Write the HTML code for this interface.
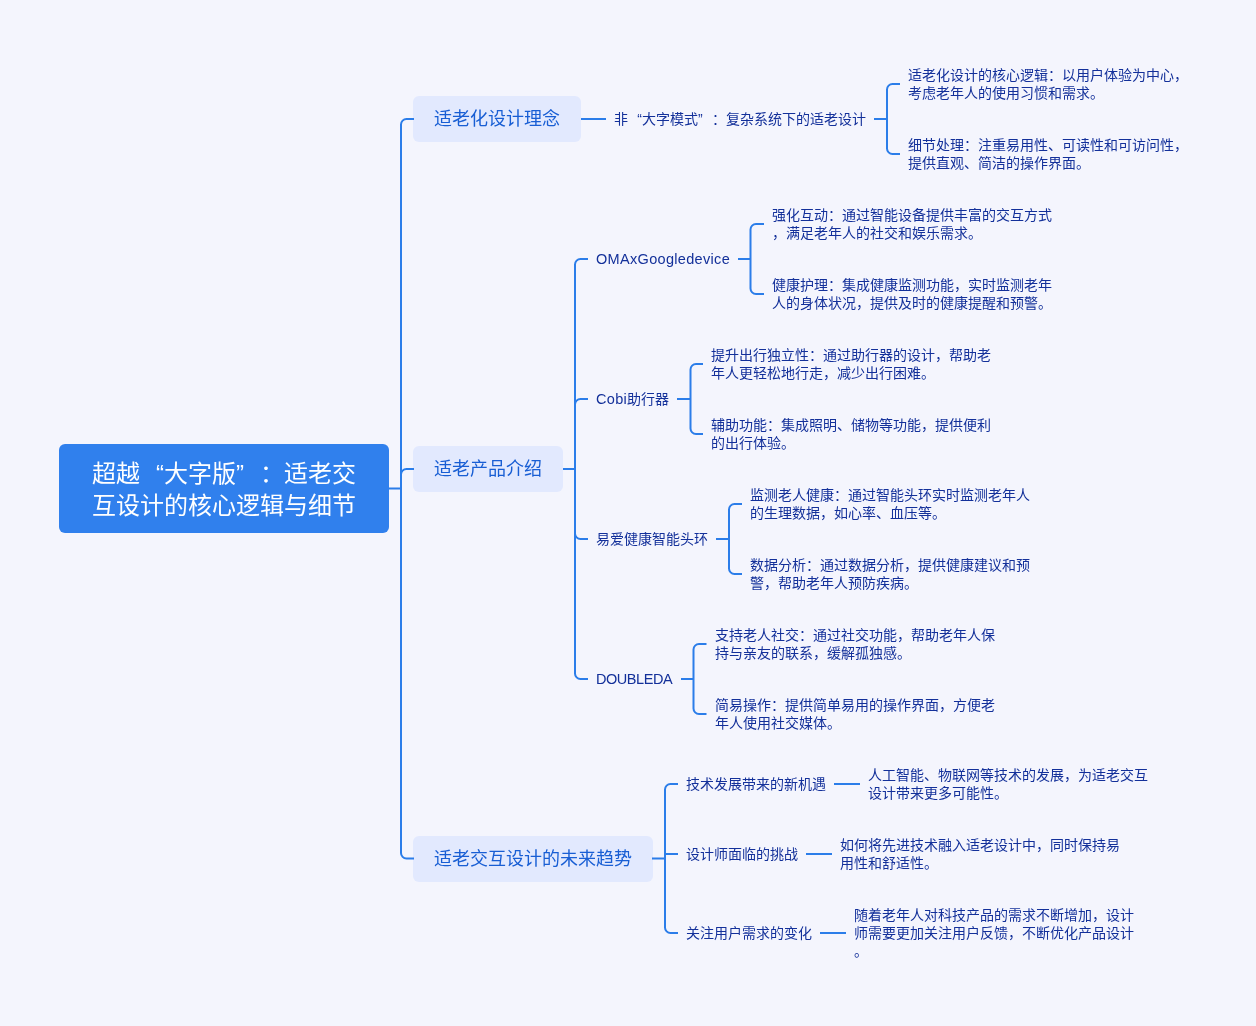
<!DOCTYPE html>
<html lang="zh-CN">
<head>
<meta charset="utf-8">
<title>超越“大字版”：适老交互设计的核心逻辑与细节</title>
<style>
html,body{margin:0;padding:0}
body{width:1256px;height:1026px;overflow:hidden;background:#f4f5fd;font-family:"Liberation Sans",sans-serif;position:relative}
svg{position:absolute;left:0;top:0;z-index:2}
.layer{position:absolute;left:0;top:0;width:1256px;height:1026px;will-change:transform}
.root{position:absolute;left:59px;top:444px;width:330px;height:89px;border-radius:6px;background:#3080ed;color:#fff;font-size:24px;line-height:31.5px;text-align:center;box-sizing:border-box;padding-top:14px;white-space:nowrap}
.l2{position:absolute;left:413px;height:46px;border-radius:6px;background:#e2e9fe;color:#185ed4;font-size:18px;line-height:46px;text-align:center;white-space:nowrap}
.t{position:absolute;color:#13309a;font-size:14px;line-height:18px;white-space:nowrap}
.ql,.qr{display:inline-block;width:1em}
.ql{text-align:right}
.qr{text-align:left}
.en{font-size:14.5px}
</style>
</head>
<body>
<svg width="1256" height="1026" viewBox="0 0 1256 1026" fill="none" stroke="#2b7de9" stroke-width="2">
<path d="M389,488.5H401M401,488.5V124.5A5.5,5.5 0 0 1 406.5,119H414M401,488.5V474.5A5.5,5.5 0 0 1 406.5,469H414M401,488.5V853.0A5.5,5.5 0 0 0 406.5,858.5H414"/>
<path d="M581,119H606"/>
<path d="M874,119H887M887,119V89.5A5.5,5.5 0 0 1 892.5,84H900M887,119V148.5A5.5,5.5 0 0 0 892.5,154H900"/>
<path d="M563,469H575M575,469V264.5A5.5,5.5 0 0 1 580.5,259H588M575,469V404.5A5.5,5.5 0 0 1 580.5,399H588M575,469V533.5A5.5,5.5 0 0 0 580.5,539H588M575,469V673.5A5.5,5.5 0 0 0 580.5,679H588"/>
<path d="M738,259H750.5M750.5,259V229.5A5.5,5.5 0 0 1 756.0,224H764M750.5,259V288.5A5.5,5.5 0 0 0 756.0,294H764"/>
<path d="M677,399H690.5M690.5,399V369.5A5.5,5.5 0 0 1 696.0,364H703M690.5,399V428.5A5.5,5.5 0 0 0 696.0,434H703"/>
<path d="M716,539H729M729,539V509.5A5.5,5.5 0 0 1 734.5,504H742M729,539V568.5A5.5,5.5 0 0 0 734.5,574H742"/>
<path d="M681,679H693.5M693.5,679V649.5A5.5,5.5 0 0 1 699.0,644H706.5M693.5,679V708.5A5.5,5.5 0 0 0 699.0,714H706.5"/>
<path d="M652,858.5H665M665,858.5V789.5A5.5,5.5 0 0 1 670.5,784H678M665,858.5V854H678M665,858.5V927.5A5.5,5.5 0 0 0 670.5,933H678"/>
<path d="M834,784H860"/>
<path d="M806,854H832"/>
<path d="M820,933H846"/>
</svg>
<div class="layer">
<div class="root"><div>超越<span class="ql">“</span>大字版<span class="qr">”</span>：适老交</div><div>互设计的核心逻辑与细节</div></div>
<div class="l2" style="top:96px;width:168px">适老化设计理念</div>
<div class="l2" style="top:446px;width:150px">适老产品介绍</div>
<div class="l2" style="top:835.5px;width:240px">适老交互设计的未来趋势</div>
<div class="t" style="left:614px;top:110px">非<span class="ql">“</span>大字模式<span class="qr">”</span>：复杂系统下的适老设计</div>
<div class="t" style="left:908px;top:66px">适老化设计的核心逻辑：以用户体验为中心，<br>考虑老年人的使用习惯和需求。</div>
<div class="t" style="left:908px;top:136px">细节处理：注重易用性、可读性和可访问性，<br>提供直观、简洁的操作界面。</div>
<div class="t" style="left:596px;top:250px"><span class="en" style="letter-spacing:0.32px">OMAxGoogledevice</span></div>
<div class="t" style="left:772px;top:206px">强化互动：通过智能设备提供丰富的交互方式<br>，满足老年人的社交和娱乐需求。</div>
<div class="t" style="left:772px;top:276px">健康护理：集成健康监测功能，实时监测老年<br>人的身体状况，提供及时的健康提醒和预警。</div>
<div class="t" style="left:596px;top:390px"><span class="en" style="letter-spacing:0.3px">Cobi</span>助行器</div>
<div class="t" style="left:711px;top:346px">提升出行独立性：通过助行器的设计，帮助老<br>年人更轻松地行走，减少出行困难。</div>
<div class="t" style="left:711px;top:416px">辅助功能：集成照明、储物等功能，提供便利<br>的出行体验。</div>
<div class="t" style="left:596px;top:530px">易爱健康智能头环</div>
<div class="t" style="left:750px;top:486px">监测老人健康：通过智能头环实时监测老年人<br>的生理数据，如心率、血压等。</div>
<div class="t" style="left:750px;top:556px">数据分析：通过数据分析，提供健康建议和预<br>警，帮助老年人预防疾病。</div>
<div class="t" style="left:596px;top:670px"><span class="en" style="letter-spacing:-0.45px">DOUBLEDA</span></div>
<div class="t" style="left:715px;top:626px">支持老人社交：通过社交功能，帮助老年人保<br>持与亲友的联系，缓解孤独感。</div>
<div class="t" style="left:715px;top:696px">简易操作：提供简单易用的操作界面，方便老<br>年人使用社交媒体。</div>
<div class="t" style="left:686px;top:775px">技术发展带来的新机遇</div>
<div class="t" style="left:868px;top:766px">人工智能、物联网等技术的发展，为适老交互<br>设计带来更多可能性。</div>
<div class="t" style="left:686px;top:845px">设计师面临的挑战</div>
<div class="t" style="left:840px;top:836px">如何将先进技术融入适老设计中，同时保持易<br>用性和舒适性。</div>
<div class="t" style="left:686px;top:924px">关注用户需求的变化</div>
<div class="t" style="left:854px;top:906px">随着老年人对科技产品的需求不断增加，设计<br>师需要更加关注用户反馈，不断优化产品设计<br>。</div>
</div>
</body>
</html>
